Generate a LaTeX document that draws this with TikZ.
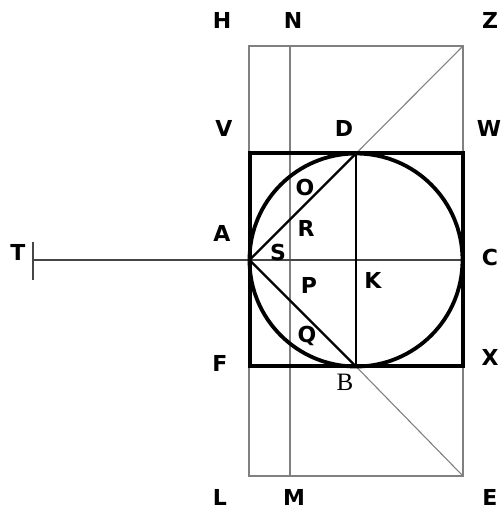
\documentclass[tikz,border=0pt]{standalone}
\usepackage{fontspec}
\newfontfamily\lblfont{DejaVu Sans}
\newfontfamily\serfont{Liberation Serif}
\definecolor{lightgray}{RGB}{128,128,128}
\definecolor{midgray}{RGB}{70,70,70}
\begin{document}
\begin{tikzpicture}[x=1pt,y=-1pt,
  lab/.style={font=\lblfont\bfseries\fontsize{22}{22}\selectfont, inner sep=0pt},
  serlab/.style={font=\serfont\fontsize{25}{25}\selectfont, inner sep=0pt},
  thinframe/.style={draw=lightgray, line width=2pt},
  thickline/.style={draw=black, line width=3.2pt},
  chord/.style={draw=black, line width=2.2pt},
  faint/.style={draw=lightgray, line width=1.1pt}]
\useasboundingbox (0,0) rectangle (503,512);
% points
\coordinate (H) at (249,46);
\coordinate (Z) at (463,46);
\coordinate (L) at (249,476);
\coordinate (E) at (463,476);
\coordinate (N) at (290,46);
\coordinate (M) at (290,476);
\coordinate (V) at (250,153);
\coordinate (W) at (463,153);
\coordinate (F) at (250,366);
\coordinate (X) at (463,366);
\coordinate (K) at (356,260);
\coordinate (A) at (249.5,260);
\coordinate (C) at (462.5,260);
\coordinate (D) at (356,153.5);
\coordinate (B) at (356,366.5);
\coordinate (T) at (33,260);
\coordinate (Ttop) at (33,242);
\coordinate (Tbot) at (33,280);
% outer frame
\draw[thinframe] (H) rectangle (E);
\draw[thinframe] (N) -- (M);
% diagonals to corners
\draw[faint] (D) -- (Z);
\draw[faint] (B) -- (E);
% horizontal axis and tick
\draw[draw=midgray, line width=2pt] (T) -- (C);
\draw[draw=midgray, line width=2pt] (Ttop) -- (Tbot);
% vertical diameter
\draw[draw=black, line width=1.3pt] (D) -- (B);
% chords
\draw[chord] (A) -- (D);
\draw[chord] (A) -- (B);
% square and circle
\draw[thickline] (V) rectangle (X);
\draw[draw=black, line width=3.8pt] (K) circle (106.5);
% labels
\node[lab] (lH) at (222,20) {H};
\node[lab] (lN) at (293,20) {N};
\node[lab] (lZ) at (490,20) {Z};
\node[lab] (lV) at (224,128) {V};
\node[lab] (lD) at (344,128) {D};
\node[lab] (lW) at (489,128) {W};
\node[lab] (lA) at (222,233) {A};
\node[lab] (lC) at (490,257) {C};
\node[lab] (lT) at (18,252) {T};
\node[lab] (lO) at (305,187) {O};
\node[lab] (lR) at (306,228) {R};
\node[lab] (lS) at (278,252) {S};
\node[lab] (lP) at (309,285) {P};
\node[lab] (lK) at (373,280) {K};
\node[lab] (lQ) at (307,336) {Q};
\node[lab] (lF) at (220,363) {F};
\node[lab] (lX) at (490,357) {X};
\node[serlab] (lB) at (345,382) {B};
\node[lab] (lL) at (220,497) {L};
\node[lab] (lM) at (294,497) {M};
\node[lab] (lE) at (490,497) {E};
\end{tikzpicture}
\end{document}
